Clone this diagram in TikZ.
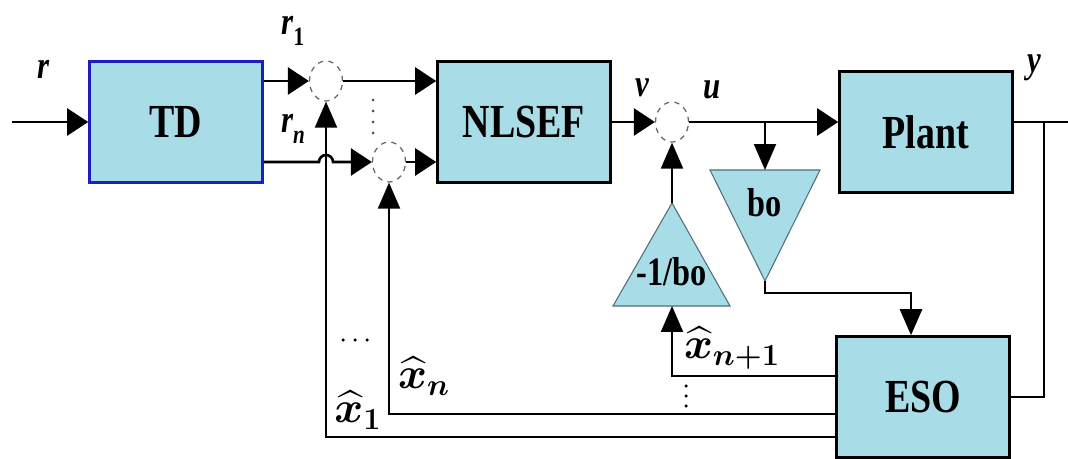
\RequirePackage{fix-cm}
\documentclass[tikz,border=0pt]{standalone}
\usepackage{amsmath}
\usepackage{fontspec}
\setmainfont{Liberation Serif}
\newfontfamily\narrowfont[FakeStretch=0.8]{Liberation Serif}
\usetikzlibrary{arrows.meta,calc,shapes.geometric}
\definecolor{boxcyan}{RGB}{168,221,232}
\definecolor{tdblue}{RGB}{30,30,190}
\definecolor{gainline}{RGB}{80,110,120}
\newcommand{\sub}[1]{\raisebox{-0.3em}{\fontsize{15}{15}\selectfont #1}}

\begin{document}
\begin{tikzpicture}[
    x=0.02cm, y=-0.02cm,
    box/.style={
        draw=black,
        line width=1.5pt,
        fill=boxcyan,
        minimum width=3.46cm,
        minimum height=2.42cm,
        inner sep=0pt,
        font=\narrowfont\bfseries\fontsize{27}{29}\selectfont
    },
    sum/.style={
        ellipse,
        draw=gray!80!black,
        dashed,
        line width=0.7pt,
        fill=white,
        minimum width=0.66cm,
        minimum height=0.8cm,
        inner sep=0pt
    },
    gain/.style={draw=gainline, line width=0.6pt, fill=boxcyan},
    gaintext/.style={inner sep=0pt, font=\narrowfont\bfseries\fontsize{23}{24}\selectfont},
    lbl/.style={inner sep=0pt, font=\narrowfont\bfseries\itshape\fontsize{22}{23}\selectfont},
    est/.style={inner sep=0pt, font=\fontsize{25}{26}\selectfont\boldmath},
    arr/.style={-{Triangle[length=0.42cm,width=0.54cm]}, line width=1.5pt},
    varr/.style={-{Triangle[length=0.52cm,width=0.44cm]}, line width=1.2pt},
    fb/.style={line width=1.2pt}
]
\useasboundingbox (0,0) rectangle (1068,459);

\node[box, draw=tdblue] (td) at (176,122) {TD};
\node[box] (nlsef) at (524,122) {NLSEF};
\node[box] (plant) at (926,132) {Plant};
\node[box] (eso) at (923,397) {ESO};

\node[sum] (s1) at (326,81) {};
\node[sum] (s2) at (389,162) {};
\node[sum] (s3) at (672,122) {};

\filldraw[gain] (710,170) -- (820,170) -- (765,281) -- cycle;
\node[gaintext] (bo) at (765,203) {bo};
\coordinate (botop) at (765,170);
\coordinate (boapex) at (765,281);

\filldraw[gain] (613,306) -- (730,306) -- (672,203) -- cycle;
\node[gaintext] (nb) at (672,272) {-1/bo};
\coordinate (nbtop) at (672,203);
\coordinate (nbbase) at (672,306);

\coordinate (rin) at (12,122);
\draw[arr] (rin) -- (td.west);
\draw[arr] (td.east |- s1) -- (s1.west);
\draw[arr] (s1.east) -- (nlsef.west |- s1);
\draw[arr] (td.east |- s2) -- ($(s1 |- s2)+(-7,0)$)
    arc[start angle=180, end angle=0, radius=0.14cm] -- (s2.west);
\draw[arr] (s2.east) -- (nlsef.west |- s2);
\draw[arr] (nlsef.east |- s3) -- (s3.west);
\draw[arr] (s3.east) -- (plant.west |- s3);

\coordinate (br) at (botop |- s3);
\draw[varr] (br) -- (botop);
\coordinate (bend) at (911,293);
\draw[varr, line width=1.5pt] (boapex) |- (bend) -- (bend |- eso.north);
\draw[varr] (nbtop) -- (s3.south);

\draw[varr] ($(eso.west)+(0,-21)$) -| (nbbase);
\draw[varr] ($(eso.west)+(0,17)$) -| (s2.south);
\draw[varr] ($(eso.west)+(0,40)$) -| (s1.south);

\coordinate (yout) at (1068,122);
\coordinate (ytap) at (1044,122);
\draw[fb] (plant.east |- s3) -- (yout);
\draw[fb] (ytap) |- (eso.east);

\node[lbl] (rlbl) at (44,69) {r};
\node[lbl] (r1lbl) at (293,31) {r\sub{\upshape 1}};
\node[lbl] (rnlbl) at (293,129) {r\sub{n}};
\node[lbl] (vlbl) at (642,88) {v};
\node[lbl] (ulbl) at (712,90) {u};
\node[lbl] (ylbl) at (1034,68) {y};

\node[est] (x1lbl) at (358,410) {$\widehat{x}_1$};
\node[est] (xnlbl) at (424,376) {$\widehat{x}_n$};
\node[est] (xn1lbl) at (732,348) {$\widehat{x}_{n+1}$};

\foreach \yy in {100,111,122,133} \fill[gray!60!black] (373,\yy) circle[radius=0.03cm];
\foreach \yy in {386,396,406} \fill (686,\yy) circle[radius=0.035cm];
\foreach \xx in {343,355,367} \fill (\xx,340) circle[radius=0.035cm];

\end{tikzpicture}
\end{document}
